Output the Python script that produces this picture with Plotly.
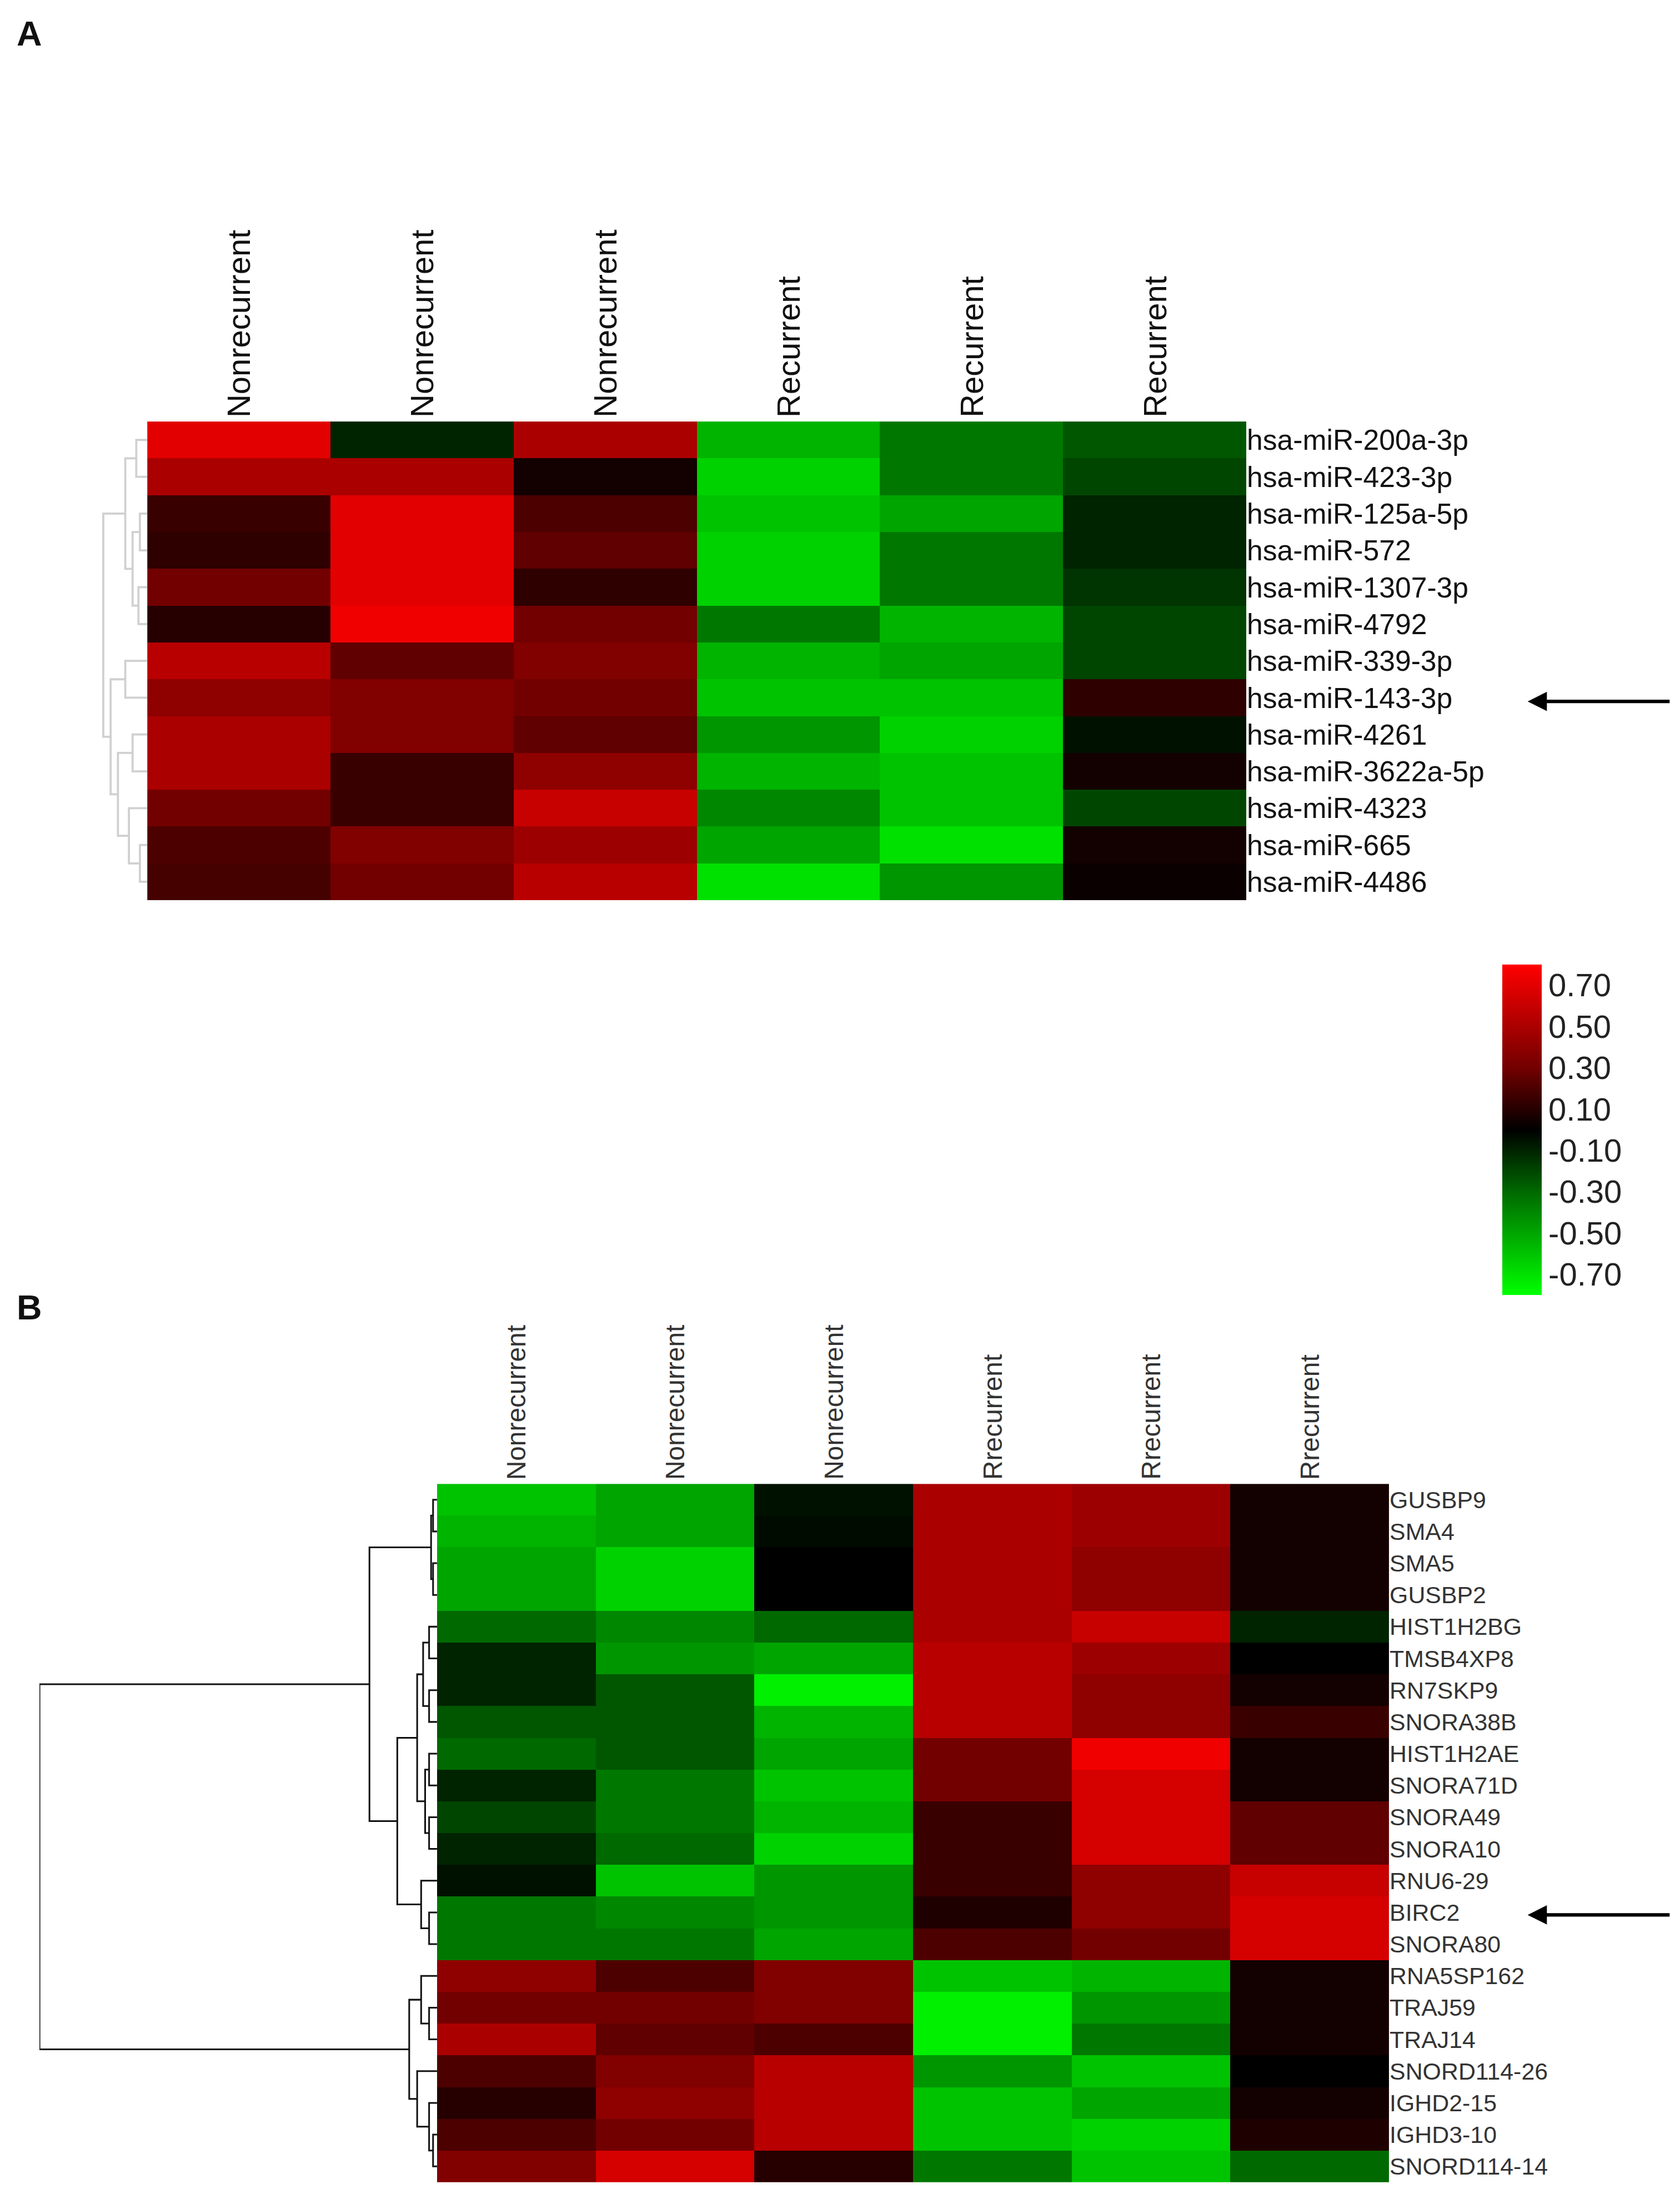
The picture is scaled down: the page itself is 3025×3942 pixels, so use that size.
import plotly.graph_objects as go

W, H = 3025, 3942
S = W / 1200.0

cols_a = ["Nonrecurrent"] * 3 + ["Recurrent"] * 3
rows_a = ["hsa-miR-200a-3p", "hsa-miR-423-3p", "hsa-miR-125a-5p", "hsa-miR-572", "hsa-miR-1307-3p",
          "hsa-miR-4792", "hsa-miR-339-3p", "hsa-miR-143-3p", "hsa-miR-4261", "hsa-miR-3622a-5p",
          "hsa-miR-4323", "hsa-miR-665", "hsa-miR-4486"]
vals_a = [
    [0.70, -0.10, 0.50, -0.55, -0.35, -0.25],
    [0.50, 0.50, 0.05, -0.65, -0.35, -0.20],
    [0.15, 0.70, 0.20, -0.60, -0.50, -0.10],
    [0.12, 0.70, 0.25, -0.65, -0.35, -0.10],
    [0.30, 0.70, 0.12, -0.65, -0.35, -0.15],
    [0.10, 0.75, 0.30, -0.35, -0.55, -0.20],
    [0.55, 0.25, 0.35, -0.55, -0.50, -0.20],
    [0.40, 0.35, 0.30, -0.60, -0.60, 0.12],
    [0.50, 0.35, 0.25, -0.45, -0.65, -0.05],
    [0.50, 0.15, 0.40, -0.55, -0.60, 0.05],
    [0.30, 0.15, 0.60, -0.40, -0.60, -0.20],
    [0.20, 0.35, 0.45, -0.50, -0.70, 0.05],
    [0.18, 0.30, 0.55, -0.70, -0.45, 0.03],
]
cols_b = ["Nonrecurrent"] * 3 + ["Rrecurrent"] * 3
rows_b = ["GUSBP9", "SMA4", "SMA5", "GUSBP2", "HIST1H2BG", "TMSB4XP8", "RN7SKP9", "SNORA38B",
          "HIST1H2AE", "SNORA71D", "SNORA49", "SNORA10", "RNU6-29", "BIRC2", "SNORA80",
          "RNA5SP162", "TRAJ59", "TRAJ14", "SNORD114-26", "IGHD2-15", "IGHD3-10", "SNORD114-14"]
vals_b = [
    [-0.60, -0.50, -0.05, 0.50, 0.45, 0.05],
    [-0.55, -0.50, -0.03, 0.50, 0.45, 0.05],
    [-0.50, -0.65, 0.00, 0.50, 0.40, 0.05],
    [-0.50, -0.65, 0.00, 0.50, 0.40, 0.05],
    [-0.30, -0.40, -0.30, 0.50, 0.60, -0.10],
    [-0.10, -0.45, -0.50, 0.55, 0.45, 0.00],
    [-0.10, -0.25, -0.75, 0.55, 0.40, 0.05],
    [-0.25, -0.25, -0.55, 0.55, 0.40, 0.15],
    [-0.30, -0.25, -0.50, 0.30, 0.75, 0.05],
    [-0.10, -0.35, -0.60, 0.30, 0.65, 0.05],
    [-0.20, -0.35, -0.55, 0.15, 0.65, 0.25],
    [-0.10, -0.30, -0.65, 0.15, 0.65, 0.25],
    [-0.05, -0.60, -0.45, 0.15, 0.40, 0.60],
    [-0.35, -0.40, -0.45, 0.08, 0.40, 0.65],
    [-0.35, -0.35, -0.50, 0.20, 0.30, 0.65],
    [0.40, 0.20, 0.35, -0.60, -0.55, 0.05],
    [0.30, 0.30, 0.35, -0.75, -0.45, 0.05],
    [0.50, 0.25, 0.20, -0.75, -0.35, 0.05],
    [0.20, 0.35, 0.55, -0.45, -0.60, 0.00],
    [0.10, 0.40, 0.55, -0.60, -0.50, 0.05],
    [0.20, 0.30, 0.55, -0.60, -0.65, 0.08],
    [0.35, 0.65, 0.10, -0.35, -0.60, -0.30],
]
cbar_ticks = [0.7, 0.5, 0.3, 0.1, -0.1, -0.3, -0.5, -0.7]

# dendrogram trees: (height, left, right); leaves are row indices
tree_a = (0.6, (0.3, (0.15, 0, 1), (0.2, (0.1, 2, 3), (0.12, 4, 5))),
          (0.5, (0.3, 6, 7), (0.4, (0.2, 8, 9), (0.25, 10, (0.1, 11, 12)))))
tree_b = (1.0,
          (0.17, (0.015, (0.01, 0, 1), (0.01, 2, 3)),
                 (0.1, (0.05, (0.035, (0.02, 4, 5), (0.02, 6, 7)), (0.03, (0.02, 8, 9), (0.02, 10, 11))),
                       (0.04, 12, (0.02, 13, 14)))),
          (0.07, (0.04, 15, (0.02, 16, 17)), (0.05, 18, (0.02, 19, (0.01, 20, 21)))))

cscale = [[0, "rgb(0,255,0)"], [0.3125, "rgb(0,105,0)"], [0.5, "rgb(0,0,0)"],
          [0.6875, "rgb(115,0,0)"], [1, "rgb(255,0,0)"]]

def dendro_lines(node, xs, ys):
    if isinstance(node, int):
        return node, 0.0
    h, l, r = node
    yl, hl = dendro_lines(l, xs, ys)
    yr, hr = dendro_lines(r, xs, ys)
    xs += [hl, h, h, hr, None]
    ys += [yl, yl, yr, yr, None]
    return (yl + yr) / 2, h

fig = go.Figure()
fig.add_trace(go.Heatmap(z=vals_a, x=list(range(6)), y=list(range(len(rows_a))), colorscale=cscale,
                         zmin=-0.8, zmax=0.8, xaxis="x", yaxis="y",
                         colorbar=dict(x=px if False else 1070 / 1200.0, xanchor="left", y=1 - 804 / 1564.0,
                                       len=236 / 1564.0, thickness=28 * S,
                                       tickvals=cbar_ticks, ticktext=[f"{t:.2f}" for t in cbar_ticks],
                                       tickfont=dict(size=23 * S, color="#222"), outlinewidth=0, ticks="",
                                       ypad=0, xpad=0)))
fig.add_trace(go.Heatmap(z=vals_b, x=list(range(6)), y=list(range(len(rows_b))), colorscale=cscale,
                         zmin=-0.8, zmax=0.8, xaxis="x2", yaxis="y2", showscale=False))
xa, ya = [], []
dendro_lines(tree_a, xa, ya)
fig.add_trace(go.Scatter(x=xa, y=ya, mode="lines", line=dict(color="#d0d0d0", width=1.5 * S),
                         xaxis="x3", yaxis="y3", showlegend=False, hoverinfo="skip"))
xb, yb = [], []
dendro_lines(tree_b, xb, yb)
fig.add_trace(go.Scatter(x=xb, y=yb, mode="lines", line=dict(color="#111", width=1.2 * S),
                         xaxis="x4", yaxis="y4", showlegend=False, hoverinfo="skip"))

def px(v): return v / 1200.0
def py(v): return 1 - v / 1564.0

na, nb = len(rows_a), len(rows_b)
hide = dict(showgrid=False, zeroline=False, showticklabels=False, ticks="", showline=False)
fig.update_layout(
    width=W, height=H, margin=dict(l=0, r=0, t=0, b=0), plot_bgcolor="white", paper_bgcolor="white",
    font=dict(family="Liberation Sans, Arial", color="#111"),
    xaxis=dict(domain=[px(102), px(887)], range=[-0.5, 5.5], **hide),
    yaxis=dict(domain=[py(640), py(298)], range=[na - 0.5, -0.5], side="right", tickvals=list(range(na)),
               ticktext=rows_a, tickfont=dict(size=20.5 * S), showgrid=False, zeroline=False, ticks="",
               anchor="x"),
    xaxis2=dict(domain=[px(309), px(989)], range=[-0.5, 5.5], anchor="y2", **hide),
    yaxis2=dict(domain=[py(1556), py(1057)], range=[nb - 0.5, -0.5], side="right", tickvals=list(range(nb)),
                ticktext=rows_b, tickfont=dict(size=17 * S, color="#333"), showgrid=False, zeroline=False,
                ticks="", anchor="x2"),
    xaxis3=dict(domain=[px(68), px(102)], range=[0.65, 0], anchor="y3", **hide),
    yaxis3=dict(domain=[py(640), py(298)], range=[na - 0.5, -0.5], anchor="x3", **hide),
    xaxis4=dict(domain=[px(25), px(309)], range=[1.0, 0], anchor="y4", **hide),
    yaxis4=dict(domain=[py(1556), py(1057)], range=[nb - 0.5, -0.5], anchor="x4", **hide),
)
ann = []
for i, c in enumerate(cols_a):
    ann.append(dict(x=i + 0.0, y=py(296), xref="x", yref="paper", text=c, textangle=-90, showarrow=False,
                    xanchor="center", yanchor="bottom", font=dict(size=23 * S, color="#111")))
for i, c in enumerate(cols_b):
    ann.append(dict(x=i + 0.0, y=py(1055), xref="x2", yref="paper", text=c, textangle=-90, showarrow=False,
                    xanchor="center", yanchor="bottom", font=dict(size=19 * S, color="#333")))
ann.append(dict(x=px(8), y=py(6), xref="paper", yref="paper", text="<b>A</b>", showarrow=False,
                xanchor="left", yanchor="top", font=dict(size=25 * S)))
ann.append(dict(x=px(8), y=py(916), xref="paper", yref="paper", text="<b>B</b>", showarrow=False,
                xanchor="left", yanchor="top", font=dict(size=25 * S)))
for yy in (498, 1365):
    ann.append(dict(x=px(1088), y=py(yy), ax=(1190 - 1088) * S, ay=0, xref="paper", yref="paper",
                    axref="pixel", ayref="pixel", text="", showarrow=True, arrowhead=2, arrowsize=1.1,
                    arrowwidth=2.5 * S, arrowcolor="black"))
fig.update_layout(annotations=ann)
fig.write_html("out.html")
